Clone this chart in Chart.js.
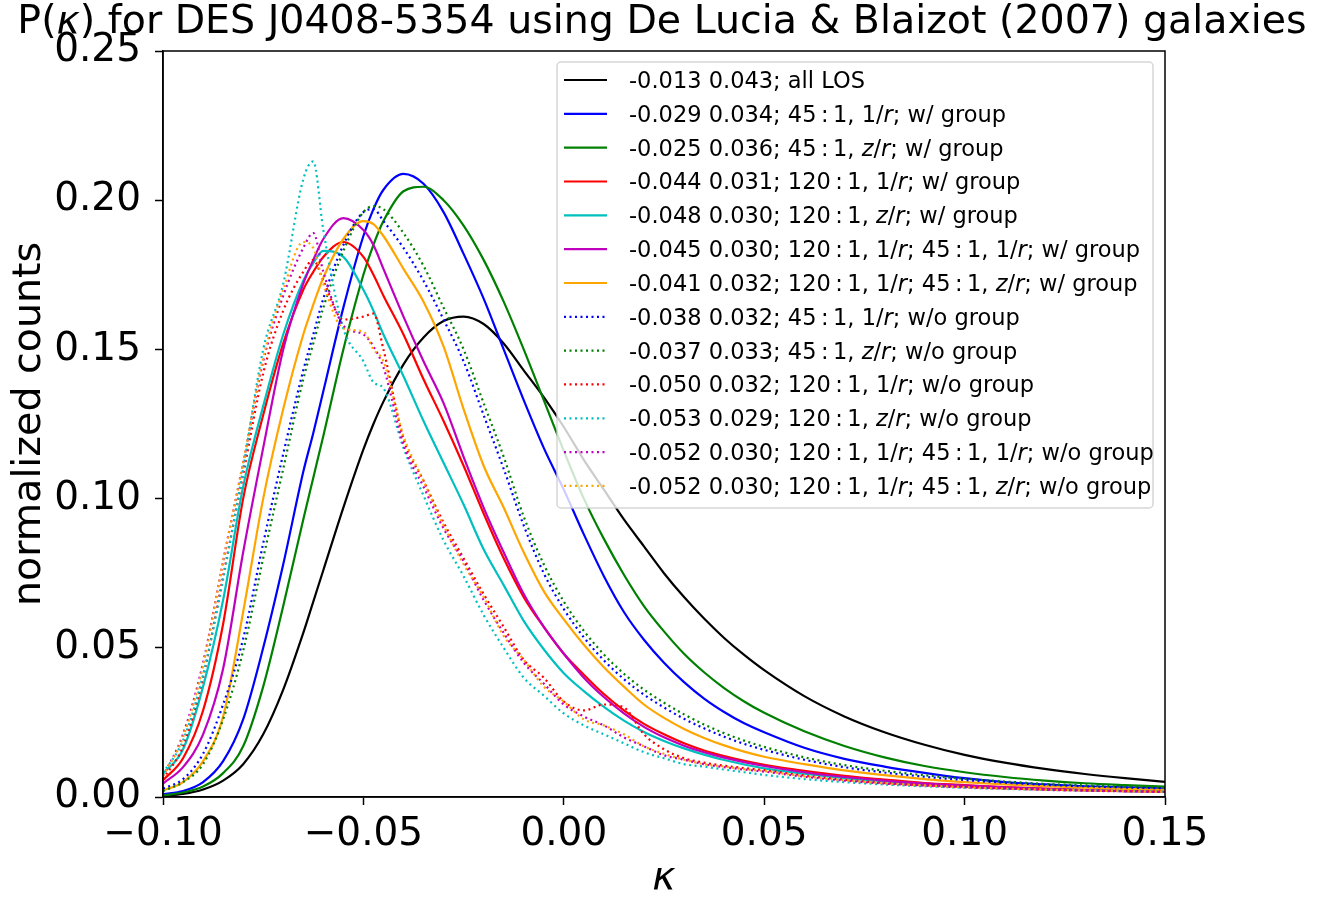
<!DOCTYPE html>
<html>
<head>
<meta charset="utf-8">
<script src="https://cdn.jsdelivr.net/npm/chart.js@4.4.1/dist/chart.umd.min.js"></script>
<style>
  html, body { margin: 0; padding: 0; background: #fff; }
  canvas { display: block; }
</style>
</head>
<body>
<canvas id="chart" width="1329" height="902"></canvas>
<script>
// kappa grid the curves were read at
const kappa = [-0.100, -0.095, -0.090, -0.085, -0.080, -0.075, -0.070, -0.065, -0.0625, -0.060,
  -0.055, -0.050, -0.0475, -0.045, -0.040, -0.035, -0.030, -0.025, -0.020, -0.015,
  -0.010, -0.005, 0.000, 0.005, 0.010, 0.015, 0.020, 0.025, 0.030, 0.035,
  0.040, 0.045, 0.050, 0.060, 0.070, 0.080, 0.090, 0.100, 0.110, 0.120,
  0.130, 0.140, 0.150];

const xTicks = [-0.10, -0.05, 0.00, 0.05, 0.10, 0.15];
const yTicks = [0.00, 0.05, 0.10, 0.15, 0.20, 0.25];

// all LOS
const allLos = [0.0003, 0.001, 0.0025, 0.0055, 0.011, 0.021, 0.036, 0.055, 0.0655, 0.076,
  0.097, 0.1165, 0.125, 0.1325, 0.145, 0.154, 0.1595, 0.161, 0.1585, 0.152,
  0.143, 0.134, 0.124, 0.113, 0.103, 0.093, 0.084, 0.075, 0.067, 0.0598,
  0.0533, 0.0476, 0.0425, 0.0338, 0.027, 0.0217, 0.0175, 0.0141, 0.0115, 0.0094,
  0.0077, 0.0063, 0.0051];

// with group
const w45r = [0.001, 0.002, 0.005, 0.012, 0.026, 0.050, 0.078, 0.109, 0.122, 0.136,
  0.164, 0.188, 0.197, 0.2035, 0.2088, 0.2055, 0.196, 0.182, 0.167, 0.150,
  0.133, 0.117, 0.103, 0.088, 0.074, 0.062, 0.0527, 0.045, 0.0385, 0.033,
  0.0285, 0.0247, 0.0217, 0.0165, 0.0128, 0.0102, 0.0081, 0.0063, 0.0050, 0.0042,
  0.0036, 0.0032, 0.0029];
const w45z = [0.0005, 0.0015, 0.0035, 0.008, 0.017, 0.037, 0.064, 0.093, 0.107, 0.121,
  0.150, 0.175, 0.185, 0.193, 0.203, 0.2045, 0.200, 0.1915, 0.180, 0.166,
  0.150, 0.133, 0.116, 0.100, 0.0865, 0.0745, 0.064, 0.0555, 0.048, 0.0418,
  0.0365, 0.032, 0.0282, 0.022, 0.0171, 0.0133, 0.0104, 0.0083, 0.0067, 0.0055,
  0.0046, 0.004, 0.0035];
const w120r = [0.0056, 0.013, 0.029, 0.058, 0.100, 0.128, 0.152, 0.170, 0.176, 0.181,
  0.186, 0.181, 0.175, 0.168, 0.155, 0.140, 0.126, 0.111, 0.095, 0.080,
  0.067, 0.057, 0.048, 0.041, 0.0345, 0.029, 0.0245, 0.021, 0.018, 0.0156,
  0.0137, 0.0121, 0.0108, 0.0088, 0.0071, 0.0058, 0.0047, 0.004, 0.0033, 0.0028,
  0.0024, 0.0021, 0.0019];
const w120z = [0.0078, 0.016, 0.037, 0.066, 0.104, 0.131, 0.155, 0.173, 0.179, 0.183,
  0.181, 0.170, 0.163, 0.155, 0.141, 0.126, 0.112, 0.098, 0.083, 0.071,
  0.059, 0.0495, 0.0415, 0.0355, 0.0302, 0.0256, 0.0218, 0.0188, 0.0163, 0.0142,
  0.0124, 0.0109, 0.0096, 0.0078, 0.0063, 0.0052, 0.0043, 0.0036, 0.003, 0.0026,
  0.0023, 0.002, 0.0018];
const w120r45r = [0.0045, 0.010, 0.021, 0.043, 0.082, 0.117, 0.150, 0.172, 0.180, 0.187,
  0.194, 0.190, 0.185, 0.177, 0.161, 0.146, 0.132, 0.114, 0.097, 0.082,
  0.068, 0.057, 0.048, 0.040, 0.0335, 0.028, 0.0235, 0.020, 0.0172, 0.015,
  0.0132, 0.0117, 0.0104, 0.0083, 0.0067, 0.0055, 0.0045, 0.0038, 0.0032, 0.0027,
  0.0023, 0.002, 0.0018];
const w120r45z = [0.0022, 0.005, 0.012, 0.027, 0.062, 0.100, 0.130, 0.155, 0.165, 0.174,
  0.187, 0.193, 0.192, 0.188, 0.177, 0.166, 0.151, 0.130, 0.111, 0.097,
  0.082, 0.069, 0.0595, 0.051, 0.0435, 0.037, 0.031, 0.0265, 0.0228, 0.0198,
  0.0173, 0.0152, 0.0135, 0.011, 0.0089, 0.0073, 0.006, 0.005, 0.0042, 0.0036,
  0.0031, 0.0027, 0.0024];

// without group
const wo45r = [0.0028, 0.006, 0.0145, 0.031, 0.053, 0.085, 0.115, 0.143, 0.155, 0.167,
  0.185, 0.196, 0.197, 0.193, 0.184, 0.173, 0.160, 0.146, 0.128, 0.110,
  0.091, 0.075, 0.063, 0.0535, 0.0458, 0.0395, 0.0343, 0.030, 0.0262, 0.023,
  0.0202, 0.0178, 0.0158, 0.0125, 0.010, 0.0082, 0.0068, 0.0057, 0.0048, 0.0041,
  0.0036, 0.0032, 0.0029];
const wo45z = [0.002, 0.005, 0.011, 0.026, 0.049, 0.080, 0.110, 0.140, 0.152, 0.164,
  0.183, 0.196, 0.198, 0.197, 0.189, 0.178, 0.164, 0.150, 0.132, 0.114,
  0.094, 0.078, 0.0655, 0.0557, 0.0478, 0.0413, 0.036, 0.0316, 0.0277, 0.0243,
  0.0214, 0.0189, 0.0168, 0.0133, 0.0107, 0.0088, 0.0073, 0.0061, 0.0052, 0.0044,
  0.0039, 0.0035, 0.0032];
const wo120r = [0.006, 0.017, 0.040, 0.074, 0.108, 0.142, 0.163, 0.176, 0.180, 0.173,
  0.160, 0.161, 0.162, 0.150, 0.120, 0.106, 0.092, 0.080, 0.068, 0.057,
  0.046, 0.040, 0.032, 0.029, 0.031, 0.030, 0.021, 0.016, 0.013, 0.0115,
  0.0105, 0.0097, 0.009, 0.0072, 0.0058, 0.0047, 0.0039, 0.0034, 0.0029, 0.0025,
  0.0022, 0.002, 0.0018];
const wo120z = [0.008, 0.019, 0.041, 0.073, 0.110, 0.150, 0.172, 0.207, 0.213, 0.190,
  0.157, 0.146, 0.139, 0.137, 0.117, 0.101, 0.086, 0.074, 0.061, 0.050,
  0.040, 0.034, 0.028, 0.024, 0.021, 0.018, 0.015, 0.013, 0.011, 0.0102,
  0.0092, 0.0083, 0.0074, 0.006, 0.005, 0.0042, 0.0036, 0.0031, 0.0027, 0.0024,
  0.0022, 0.002, 0.0018];
const wo120r45r = [0.007, 0.021, 0.045, 0.079, 0.112, 0.146, 0.168, 0.184, 0.189, 0.176,
  0.158, 0.155, 0.151, 0.144, 0.118, 0.104, 0.090, 0.079, 0.066, 0.055,
  0.045, 0.038, 0.031, 0.027, 0.024, 0.020, 0.017, 0.014, 0.0125, 0.011,
  0.010, 0.0092, 0.0085, 0.0068, 0.0055, 0.0045, 0.0038, 0.0032, 0.0028, 0.0024,
  0.0021, 0.0019, 0.0017];
const wo120r45z = [0.007, 0.020, 0.044, 0.079, 0.112, 0.147, 0.170, 0.186, 0.184, 0.172,
  0.157, 0.156, 0.150, 0.146, 0.121, 0.106, 0.091, 0.078, 0.067, 0.054,
  0.046, 0.037, 0.032, 0.026, 0.024, 0.021, 0.017, 0.0145, 0.0125, 0.011,
  0.0102, 0.0093, 0.0087, 0.0069, 0.0056, 0.0046, 0.0039, 0.0033, 0.0028, 0.0025,
  0.0022, 0.0019, 0.0017];

// legend labels, text between underscores is set in italic
const seriesLabels = [
  '-0.013 0.043; all LOS',
  '-0.029 0.034; 45\u2009:\u20091, 1/_r_; w/ group',
  '-0.025 0.036; 45\u2009:\u20091, _z_/_r_; w/ group',
  '-0.044 0.031; 120\u2009:\u20091, 1/_r_; w/ group',
  '-0.048 0.030; 120\u2009:\u20091, _z_/_r_; w/ group',
  '-0.045 0.030; 120\u2009:\u20091, 1/_r_; 45\u2009:\u20091, 1/_r_; w/ group',
  '-0.041 0.032; 120\u2009:\u20091, 1/_r_; 45\u2009:\u20091, _z_/_r_; w/ group',
  '-0.038 0.032; 45\u2009:\u20091, 1/_r_; w/o group',
  '-0.037 0.033; 45\u2009:\u20091, _z_/_r_; w/o group',
  '-0.050 0.032; 120\u2009:\u20091, 1/_r_; w/o group',
  '-0.053 0.029; 120\u2009:\u20091, _z_/_r_; w/o group',
  '-0.052 0.030; 120\u2009:\u20091, 1/_r_; 45\u2009:\u20091, 1/_r_; w/o group',
  '-0.052 0.030; 120\u2009:\u20091, 1/_r_; 45\u2009:\u20091, _z_/_r_; w/o group'
];
const seriesData = [allLos, w45r, w45z, w120r, w120z, w120r45r, w120r45z,
  wo45r, wo45z, wo120r, wo120z, wo120r45r, wo120r45z];

const titleText = 'P(_\u03ba_) for DES J0408-5354 using De Lucia & Blaizot (2007) galaxies';
const xLabel = '_\u03ba_';
const yLabel = 'normalized counts';

const FONT = '"DejaVu Sans", "Liberation Sans", sans-serif';
const COLORS = ['#000000', '#0000ff', '#008000', '#ff0000', '#00bfbf', '#bf00bf', '#ffa500',
  '#0000ff', '#008000', '#ff0000', '#00bfbf', '#bf00bf', '#ffa500'];
const DOT = [2, 3.5];

function fmtTick(v) {
  return (v < 0 ? '\u2212' : '') + Math.abs(v).toFixed(2);
}

// draw text with _italic_ parts
function drawRich(ctx, text, x, y, size, align) {
  const parts = text.split('_');
  const fonts = parts.map((p, i) => (i % 2 ? 'italic ' : '') + size + 'px ' + FONT);
  let total = 0;
  const widths = parts.map((p, i) => {
    ctx.font = fonts[i];
    const w = ctx.measureText(p).width;
    total += w;
    return w;
  });
  let cx = align === 'center' ? x - total / 2 : x;
  ctx.textAlign = 'left';
  parts.forEach((p, i) => {
    ctx.font = fonts[i];
    ctx.fillText(p, cx, y);
    cx += widths[i];
  });
}

const decorations = {
  id: 'decorations',
  afterDatasetsDraw(chart) {
    const ctx = chart.ctx;
    const a = chart.chartArea;
    ctx.save();
    // frame on all four sides
    ctx.strokeStyle = '#000';
    ctx.lineWidth = 1.5;
    ctx.setLineDash([]);
    ctx.strokeRect(a.left, a.top, a.right - a.left, a.bottom - a.top);

    // legend box
    const bw = 596, bh = 446;
    const bx = a.right - 12 - bw, by = a.top + 11;
    ctx.beginPath();
    ctx.roundRect(bx, by, bw, bh, 4);
    ctx.fillStyle = 'rgba(255,255,255,0.8)';
    ctx.fill();
    ctx.strokeStyle = 'rgba(204,204,204,0.8)';
    ctx.lineWidth = 1.5;
    ctx.stroke();

    ctx.fillStyle = '#000';
    ctx.textBaseline = 'alphabetic';
    chart.data.datasets.forEach((ds, i) => {
      const y = by + 18 + i * 33.83;
      ctx.beginPath();
      ctx.setLineDash(ds.borderDash || []);
      ctx.strokeStyle = ds.borderColor;
      ctx.lineWidth = ds.borderWidth;
      ctx.moveTo(bx + 7, y);
      ctx.lineTo(bx + 50, y);
      ctx.stroke();
      ctx.setLineDash([]);
      drawRich(ctx, seriesLabels[i], bx + 72, y + 8, 22.5, 'left');
    });
    ctx.restore();
  },
  afterDraw(chart) {
    const ctx = chart.ctx;
    const a = chart.chartArea;
    const cx = (a.left + a.right) / 2;
    ctx.save();
    ctx.fillStyle = '#000';
    ctx.textBaseline = 'alphabetic';
    drawRich(ctx, titleText, cx - 2, 33, 39.5, 'center');
    drawRich(ctx, xLabel, cx, 889, 39.5, 'center');
    ctx.translate(40, (a.top + a.bottom) / 2);
    ctx.rotate(-Math.PI / 2);
    drawRich(ctx, yLabel, 0, 0, 39.5, 'center');
    ctx.restore();
  }
};

const datasets = seriesData.map((arr, i) => ({
  label: seriesLabels[i].replace(/_/g, ''),
  data: kappa.map((k, j) => ({ x: k, y: arr[j] })),
  borderColor: COLORS[i],
  borderWidth: 2.2,
  borderDash: i >= 7 ? DOT : [],
  pointRadius: 0,
  fill: false,
  cubicInterpolationMode: 'monotone',
  order: seriesData.length - i
}));

const axisCommon = {
  type: 'linear',
  ticks: {
    callback: fmtTick,
    font: { family: FONT, size: 39 },
    color: '#000',
    autoSkip: false,
    maxRotation: 0
  },
  grid: { drawOnChartArea: false, drawTicks: true, tickLength: 8, tickWidth: 1.5, tickColor: '#000' },
  border: { display: true, color: '#000', width: 1.5 }
};

new Chart(document.getElementById('chart').getContext('2d'), {
  type: 'line',
  data: { datasets },
  options: {
    responsive: false,
    animation: false,
    devicePixelRatio: 1,
    layout: { padding: { left: 0, right: 164, top: 51, bottom: 0 } },
    plugins: { legend: { display: false }, title: { display: false }, tooltip: { enabled: false } },
    scales: {
      x: {
        ...axisCommon,
        min: -0.1,
        max: 0.15,
        ticks: { ...axisCommon.ticks, padding: 6 },
        afterBuildTicks: s => { s.ticks = xTicks.map(v => ({ value: v })); },
        afterFit: s => { s.height = 105; }
      },
      y: {
        ...axisCommon,
        min: 0,
        max: 0.25,
        ticks: { ...axisCommon.ticks, padding: 14 },
        afterBuildTicks: s => { s.ticks = yTicks.map(v => ({ value: v })); },
        afterFit: s => { s.width = 163; }
      }
    }
  },
  plugins: [decorations]
});
</script>
</body>
</html>
